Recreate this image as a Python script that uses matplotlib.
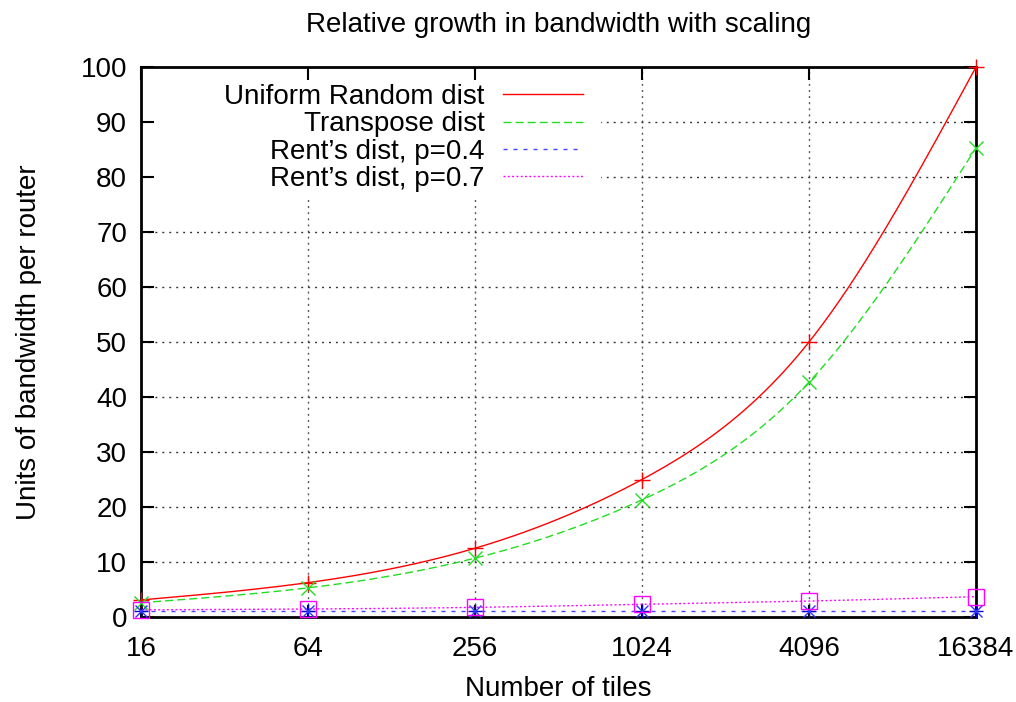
import numpy as np
import matplotlib
matplotlib.use("Agg")
import matplotlib.pyplot as plt
from matplotlib.patches import Rectangle
from matplotlib.ticker import FixedLocator, FixedFormatter, NullLocator

tiles = [16, 64, 256, 1024, 4096, 16384]
tick_labels = ["16", "64", "256", "1024", "4096", "16384"]
uniform = [3.1, 6.25, 12.5, 25.0, 50.0, 100.0]
transpose = [2.6, 5.3, 10.7, 21.3, 42.7, 85.3]
rent04 = [1.1, 1.1, 1.1, 1.1, 1.1, 1.1]
rent07 = [1.3, 1.45, 1.75, 2.3, 2.9, 3.7]
yticks = list(range(0, 101, 10))

series_names = ["Uniform Random dist", "Transpose dist",
                "Rent\u2019s dist, p=0.4", "Rent\u2019s dist, p=0.7"]


def natural_spline(x, y, xs):
    x = np.asarray(x, float); y = np.asarray(y, float)
    n = len(x)
    h = np.diff(x)
    A = np.zeros((n, n)); b = np.zeros(n)
    A[0, 0] = 1; A[-1, -1] = 1
    for i in range(1, n - 1):
        A[i, i - 1] = h[i - 1]
        A[i, i] = 2 * (h[i - 1] + h[i])
        A[i, i + 1] = h[i]
        b[i] = 3 * ((y[i + 1] - y[i]) / h[i] - (y[i] - y[i - 1]) / h[i - 1])
    c = np.linalg.solve(A, b)
    bb = np.zeros(n - 1); d = np.zeros(n - 1)
    for i in range(n - 1):
        bb[i] = (y[i + 1] - y[i]) / h[i] - h[i] * (2 * c[i] + c[i + 1]) / 3
        d[i] = (c[i + 1] - c[i]) / (3 * h[i])
    idx = np.clip(np.searchsorted(x, xs) - 1, 0, n - 2)
    dx = xs - x[idx]
    return y[idx] + bb[idx] * dx + c[idx] * dx ** 2 + d[idx] * dx ** 3


FS = 20
plt.rcParams['font.family'] = ['Liberation Sans', 'DejaVu Sans']
plt.rcParams['font.size'] = FS

fig = plt.figure(figsize=(10.16, 7.02), dpi=100)
L, R, T, B = 141, 976, 67, 617
ax = fig.add_axes([L / 1016, 1 - B / 702, (R - L) / 1016, (B - T) / 702])

lx = np.log2(tiles)
xs = np.linspace(lx[0], lx[-1], 400)

styles = [
    dict(color='#ff0000', dash=None),
    dict(color='#22dd22', dash=(5.8, 2.9)),
    dict(color='#4444ff', dash=(2.9, 4.3)),
    dict(color='#ff00ff', dash=(1.4, 1.7)),
]
data = [uniform, transpose, rent04, rent07]

handles = []
for name, vals, st in zip(series_names, data, styles):
    ys = natural_spline(lx, vals, xs)
    line, = ax.plot(2 ** xs, ys, color=st['color'], lw=1.0, label=name, zorder=3)
    if st['dash'] is not None:
        line.set_dashes(st['dash'])
    handles.append(line)

mk = dict(ls='none', zorder=4, clip_on=False, mew=1.0)
ax.plot(tiles, uniform, marker='+', ms=11, mec='#ff0000', **mk)
ax.plot(tiles, transpose, marker='x', ms=10, mec='#22dd22', **mk)
ax.plot(tiles, rent04, marker='+', ms=10, mec='#0000cc', **mk)
ax.plot(tiles, rent04, marker='x', ms=8, mec='#3333ff', **mk)
ax.plot(tiles, rent07, marker='s', ms=12, mfc='none', mec='#ff00ff', **mk)

ax.set_xscale('log', base=2)
ax.set_xlim(tiles[0], tiles[-1])
ax.set_ylim(0, 100)
ax.xaxis.set_major_locator(FixedLocator(tiles))
ax.xaxis.set_major_formatter(FixedFormatter(tick_labels))
ax.xaxis.set_minor_locator(NullLocator())
ax.set_yticks(yticks)

# dotted grid (drawn as lines so that the key box can hide it)
for xv in tiles[1:-1]:
    g = ax.axvline(xv, color='#555555', lw=1.0, zorder=1)
    g.set_dashes((1.4, 3.0))
for yv in yticks[1:-1]:
    g = ax.axhline(yv, color='#333333', lw=1.0, zorder=1)
    g.set_dashes((1.4, 3.6))

# opaque key area
ax.add_patch(Rectangle((0, (B - 198) / (B - T)), (601 - L) / (R - L),
                       1 - (B - 198) / (B - T), transform=ax.transAxes,
                       facecolor='white', edgecolor='none', zorder=1.2))

ax.tick_params(direction='in', length=9, width=1.5, top=True, right=True,
               labelsize=FS, pad=14)
ax.tick_params(axis='y', pad=10)
for s in ax.spines.values():
    s.set_linewidth(2)

ax.set_title('Relative growth in bandwidth with scaling', fontsize=FS, pad=25)
ax.set_xlabel('Number of tiles', fontsize=FS, labelpad=10)
ax.set_ylabel('Units of bandwidth per router', fontsize=FS, labelpad=28)

ax_w = R - L
leg = ax.legend(handles=handles, loc='upper right',
                bbox_to_anchor=((597 - L) / ax_w, 1 - 3 / (B - T)),
                frameon=False, markerfirst=False, handlelength=2.9,
                handletextpad=0.65, labelspacing=0.05, borderaxespad=0.0,
                borderpad=0.5, fontsize=FS)
for t in leg.get_texts():
    t.set_ha('right')
leg.set_zorder(5)

fig.savefig('out.png', dpi=100)
